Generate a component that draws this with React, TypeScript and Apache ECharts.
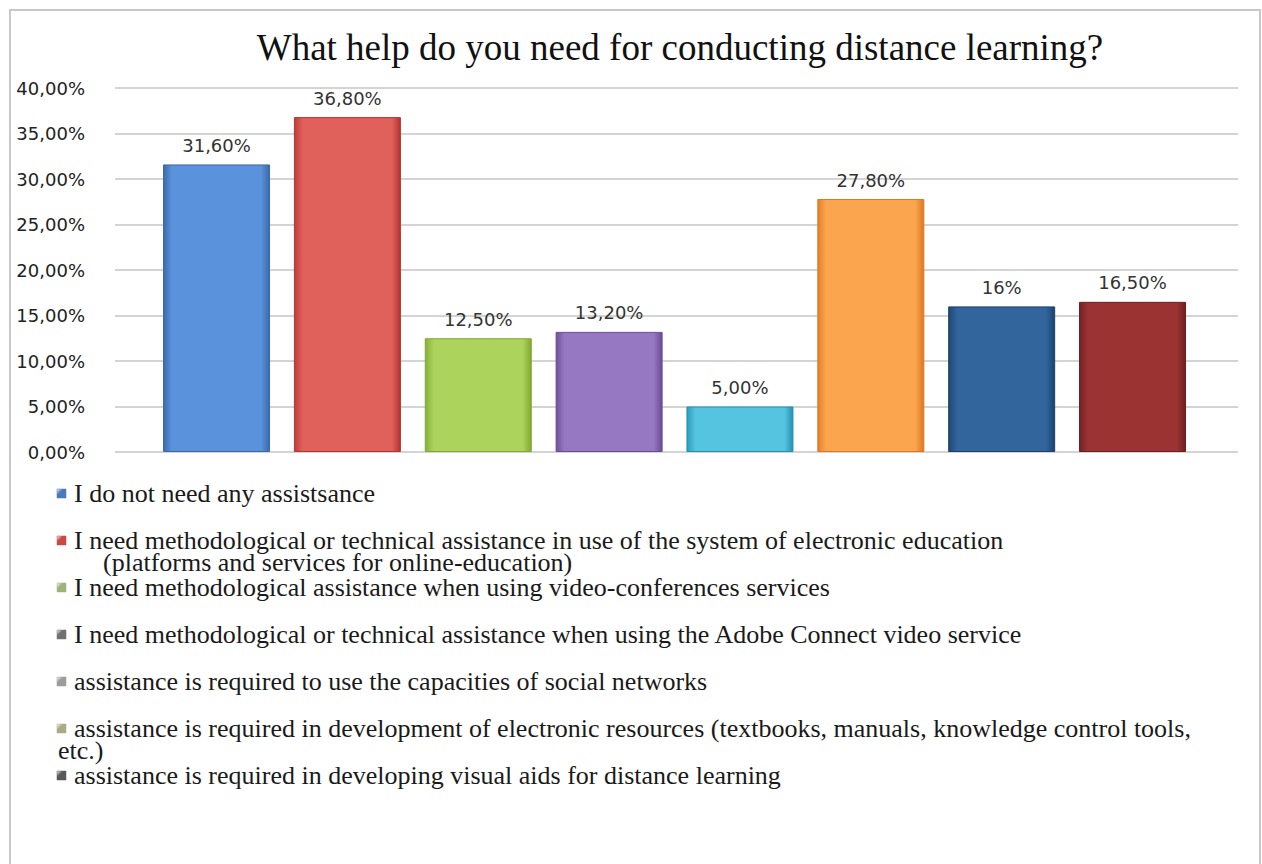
import React, { useEffect, useRef } from "react";
import * as echarts from "echarts";

const titleText = "What help do you need for conducting distance learning?";
const positions = [1, 2, 3, 4, 5, 6, 7, 8];
const values = [31.6, 36.8, 12.5, 13.2, 5.0, 27.8, 16.0, 16.5];
const valueLabels = ["31,60%", "36,80%", "12,50%", "13,20%", "5,00%", "27,80%", "16%", "16,50%"];
const barColors = [
  ["#3a6cb0", "#5a93db", "#3a69a8"],
  ["#bd3c39", "#e0605c", "#b23431"],
  ["#86b037", "#acd45c", "#80a833"],
  ["#71519c", "#9677c2", "#6a4c93"],
  ["#2a9cbd", "#55c4e0", "#2690b0"],
  ["#e5802a", "#fba54f", "#dc7822"],
  ["#1f4774", "#32659c", "#1c416b"],
  ["#742323", "#9c3333", "#6c2020"],
];
const yTicks = [0, 5, 10, 15, 20, 25, 30, 35, 40];
const legendLabels = [
  "I do not need any assistsance",
  "I need methodological or technical assistance in use of the system of electronic education",
  "I need methodological assistance when using video-conferences services",
  "I need methodological or technical assistance when using the Adobe Connect video service",
  "assistance is required to use the capacities of social networks",
  "assistance is required in development of electronic resources (textbooks, manuals, knowledge control tools,",
  "assistance is required in developing visual aids for distance learning",
];
const legendContinuations = ["", "(platforms and services for online-education)", "", "", "", "etc.)", ""];
const legendMarkerColors = ["#4a78b8", "#c84844", "#9fb27a", "#707070", "#9c9c9c", "#a9ab86", "#585858"];

export default function App() {
  const ref = useRef<HTMLDivElement>(null);
  useEffect(() => {
    document.body.style.margin = "0";
    const chart = echarts.init(ref.current!, null, { renderer: "svg" });
    const fmt = (v: number) => v.toFixed(2).replace(".", ",") + "%";
    const legendEls: any[] = [];
    legendLabels.forEach((lab, i) => {
      const y = 493 + i * 47;
      legendEls.push({
        type: "rect",
        shape: { x: 57, y: y - 4, width: 9, height: 9 },
        style: {
          fill: new echarts.graphic.LinearGradient(0, 0, 1, 1, [
            { offset: 0, color: "#ffffff" },
            { offset: 0.35, color: legendMarkerColors[i] },
            { offset: 1, color: legendMarkerColors[i] },
          ]),
          stroke: legendMarkerColors[i],
          lineWidth: 0.5,
        },
      });
      const cont = legendContinuations[i];
      let text = lab;
      let x = 74;
      if (cont) {
        if (i === 1) {
          text = lab + "\n{ind|}" + cont;
        } else {
          x = 58;
          text = "{sm|}" + lab + "\n" + cont;
        }
      }
      legendEls.push({
        type: "text",
        x: x,
        y: y - 11,
        style: {
          text: text,
          fontFamily: "Liberation Serif",
          fontSize: 26,
          lineHeight: 22,
          fill: "#1a1a1a",
          verticalAlign: "top",
          rich: {
            ind: { width: 29, height: 1 },
            sm: { width: 16, height: 1 },
          },
        },
      });
    });

    chart.setOption({
      animation: false,
      backgroundColor: "#ffffff",
      title: {
        text: titleText,
        left: 675,
        textAlign: "center",
        top: 24,
        textStyle: { fontFamily: "Liberation Serif", fontSize: 37, fontWeight: "normal", color: "#111" },
      },
      grid: { left: 115, right: 1262 - 1238, top: 88, bottom: 864 - 452 },
      xAxis: {
        type: "value",
        min: 0.224,
        max: 8.806,
        show: false,
        splitLine: { show: false },
      },
      yAxis: {
        type: "value",
        min: 0,
        max: 40,
        interval: 5,
        axisLine: { show: false },
        axisTick: { show: false },
        axisLabel: {
          formatter: (v: number) => fmt(v),
          margin: 30,
          fontFamily: "DejaVu Sans",
          fontSize: 18,
          color: "#222",
        },
        splitLine: { lineStyle: { color: "#d4d4d4", width: 2 } },
      },
      series: [
        {
          type: "bar",
          barWidth: 107,
          data: positions.map((p, i) => ({
            value: [p, values[i]],
            itemStyle: {
              color: new echarts.graphic.LinearGradient(0, 0, 1, 0, [
                { offset: 0, color: barColors[i][0] },
                { offset: 0.08, color: barColors[i][1] },
                { offset: 0.5, color: barColors[i][1] },
                { offset: 0.92, color: barColors[i][1] },
                { offset: 1, color: barColors[i][2] },
              ]),
              borderColor: barColors[i][2],
              borderWidth: 1,
            },
            label: {
              show: true,
              position: "top",
              distance: 10,
              formatter: valueLabels[i],
              fontFamily: "DejaVu Sans",
              fontSize: 18,
              color: "#333",
            },
          })),
        },
      ],
      graphic: [
        {
          type: "rect",
          shape: { x: 10, y: 10, width: 1250, height: 870 },
          style: { fill: "none", stroke: "#c8c8c8", lineWidth: 2 },
          silent: true,
        },
        { type: "group", children: legendEls },
      ],
    });
    return () => chart.dispose();
  }, []);
  return <div ref={ref} style={{ width: 1262, height: 864 }} />;
}
